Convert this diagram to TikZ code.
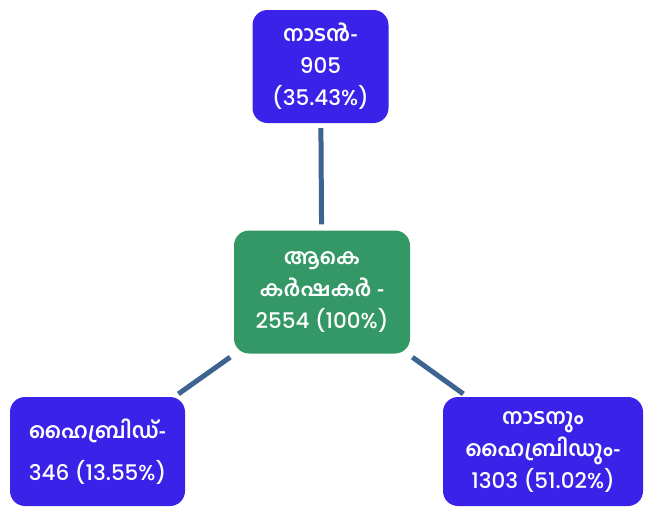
\documentclass[tikz,border=0pt]{standalone}
\usepackage{fontspec}
\usepackage{tikz}
\newfontfamily\mlfont[Script=Malayalam]{Hind Kochi}
\newfontfamily\numfont[BoldFont=* Medium]{Poppins}
\newcommand{\num}[1]{{\numfont\bfseries\fontsize{21.5}{31}\selectfont #1}}
\definecolor{boxblue}{RGB}{59,34,232}
\definecolor{boxgreen}{RGB}{52,152,102}
\definecolor{linkblue}{RGB}{61,99,145}

\begin{document}
\begin{tikzpicture}[x=1pt,y=-1pt]
  \tikzstyle{cat}=[rectangle, rounded corners=15pt, fill=boxblue, text=white, align=center, inner sep=0pt, font=\mlfont\bfseries\fontsize{21.5}{32}\selectfont]
  \tikzstyle{link}=[draw=linkblue, line width=5pt, shorten >=5pt, shorten <=6pt]
  \useasboundingbox (0,0) rectangle (645,507);

  \node[cat, fill=boxgreen, minimum width=176pt, minimum height=123pt] (total) at (322,292) {ആകെ\\കർഷകർ -\\\num{2554 (100\%)}};
  \node[cat, minimum width=136pt, minimum height=113pt] (naadan) at (320.5,66.5) {നാടൻ-\\\num{905}\\\num{(35.43\%)}};
  \node[cat, minimum width=175pt, minimum height=109pt] (hybrid) at (97.5,451.5) {ഹൈബ്രിഡ്-\\[10pt]\num{346 (13.55\%)}};
  \node[cat, minimum width=200pt, minimum height=109pt] (both) at (543,451.5) {നാടനും\\ഹൈബ്രിഡും-\\\num{1303 (51.02\%)}};

  \draw[link] (total) -- (naadan);
  \draw[link] (total) -- (hybrid);
  \draw[link] (total) -- (both);
\end{tikzpicture}
\end{document}
